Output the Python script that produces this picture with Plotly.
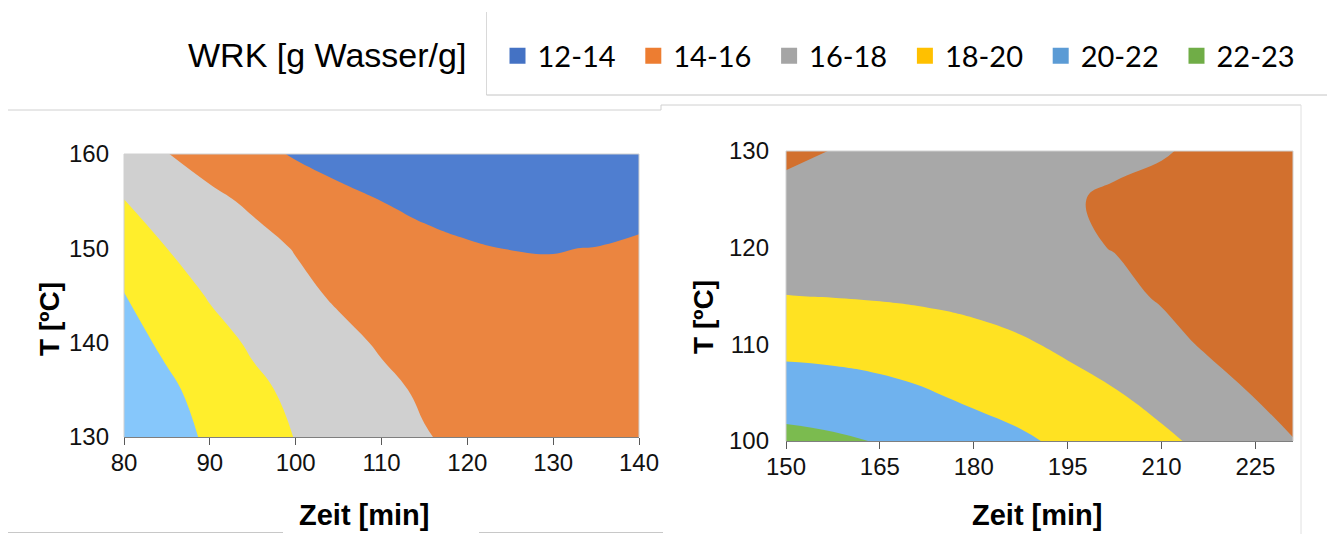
import plotly.graph_objects as go

W, H = 1327, 534

# ---------------- data ----------------
legend_title = "WRK [g Wasser/g]"
legend_labels = ["12-14", "14-16", "16-18", "18-20", "20-22", "22-23"]
legend_colors = ["#4472C4", "#ED7D31", "#A5A5A5", "#FFC000", "#5B9BD5", "#70AD47"]

# left chart: Zeit [min] x T [°C]
left_time = [80, 85, 90, 95, 100, 105, 110, 115, 120, 125, 130, 135, 140]
left_temp = [130, 135, 140, 145, 150, 155, 160]
left_wrk = [
    [21.6, 20.8, 19.7, 18.8, 17.95, 17.3, 16.7, 16.1, 15.6, 15.2, 14.9, 14.7, 14.6],
    [21.0, 20.3, 19.4, 18.4, 17.6, 16.95, 16.4, 15.75, 15.2, 14.8, 14.5, 14.35, 14.3],
    [20.6, 19.7, 18.7, 17.75, 17.1, 16.5, 15.8, 15.2, 14.8, 14.5, 14.3, 14.2, 14.2],
    [20.05, 19.0, 17.85, 17.2, 16.5, 15.75, 15.2, 14.8, 14.5, 14.35, 14.3, 14.3, 14.35],
    [19.3, 18.0, 17.3, 16.65, 15.9, 15.3, 14.8, 14.45, 14.15, 13.98, 13.96, 14.03, 14.3],
    [18.05, 17.3, 16.45, 15.7, 15.05, 14.5, 14.0, 13.6, 13.35, 13.2, 13.15, 13.2, 13.3],
    [16.8, 16.05, 15.2, 14.5, 13.85, 13.3, 12.9, 12.6, 12.4, 12.3, 12.3, 12.35, 12.45],
]
left_xticks = [80, 90, 100, 110, 120, 130, 140]
left_yticks = [130, 140, 150, 160]

# right chart
right_time = [150, 157.5, 165, 172.5, 180, 187.5, 195, 202.5, 210, 217.5, 225, 232.5]
right_temp = [100, 105, 110, 115, 120, 125, 130]
right_wrk = [
    [22.6, 22.3, 21.9, 21.3, 20.8, 20.3, 19.6, 18.9, 18.4, 17.5, 16.7, 15.9],
    [20.9, 20.75, 20.5, 20.1, 19.6, 19.1, 18.6, 18.1, 17.3, 16.6, 15.9, 15.3],
    [19.5, 19.4, 19.2, 18.95, 18.6, 18.2, 17.7, 17.1, 16.5, 15.8, 15.2, 14.8],
    [18.02, 17.95, 17.85, 17.7, 17.5, 17.2, 16.85, 16.4, 15.85, 15.3, 14.9, 14.6],
    [17.3, 17.25, 17.15, 17.0, 16.8, 16.55, 16.25, 15.95, 15.55, 15.1, 14.7, 14.4],
    [16.6, 16.65, 16.65, 16.55, 16.4, 16.25, 16.1, 15.85, 15.4, 14.95, 14.6, 14.3],
    [15.6, 16.05, 16.35, 16.45, 16.45, 16.4, 16.3, 16.25, 16.15, 15.6, 15.1, 14.7],
]
right_xticks = [150, 165, 180, 195, 210, 225]
right_yticks = [100, 110, 120, 130]

# band fill colours (12-14, 14-16, 16-18, 18-20, 20-22, 22-24)
left_band_colors = ["#4F7ED0", "#EB8540", "#D0D0D0", "#FFEE2C", "#86C7FB", "#7CB94E"]
right_band_colors = ["#4472C4", "#D2702E", "#A8A8A8", "#FFE222", "#6FB2EE", "#7BBB4F"]

# ---------------- helpers ----------------
def px_x(p):
    return p / W


def px_y(p):
    return 1 - p / H


def stepped(colors):
    n = len(colors)
    cs = []
    for i, c in enumerate(colors):
        cs.append([i / n, c])
        cs.append([(i + 1) / n, c])
    return cs


tick_font = dict(family="Liberation Sans, Arial, sans-serif", size=24, color="#111111")
bold_font = dict(family="Liberation Sans, Arial, sans-serif", size=29, color="#000000")

fig = go.Figure()

for xs, ys, zs, cols, xa, ya in [
    (left_time, left_temp, left_wrk, left_band_colors, "x", "y"),
    (right_time, right_temp, right_wrk, right_band_colors, "x2", "y2"),
]:
    fig.add_trace(go.Contour(
        x=xs, y=ys, z=zs,
        colorscale=stepped(cols), zmin=12, zmax=24,
        autocontour=False,
        contours=dict(start=12, end=24, size=2, coloring="fill", showlines=False),
        line=dict(width=0, smoothing=1.3),
        showscale=False, showlegend=False,
        xaxis=xa, yaxis=ya,
    ))

# legend entries
for lab, col in zip(legend_labels, legend_colors):
    fig.add_trace(go.Scatter(
        x=[None], y=[None], mode="markers", name=lab,
        marker=dict(symbol="square", size=19, color=col, line=dict(width=0)),
        xaxis="x", yaxis="y", showlegend=True,
    ))

axis_common = dict(showgrid=False, zeroline=False, tickfont=tick_font, fixedrange=True,
                   automargin=False)

fig.update_layout(
    template="none",
    width=W, height=H,
    margin=dict(l=0, r=0, t=0, b=0, pad=0, autoexpand=False),
    paper_bgcolor="white", plot_bgcolor="white",
    showlegend=True,
    legend=dict(
        orientation="h", x=px_x(497.5), xanchor="left", y=px_y(56), yanchor="middle",
        font=dict(family="Lato, Carlito, sans-serif", size=29, color="#000000"),
        entrywidth=90.8, entrywidthmode="pixels",
        bgcolor="rgba(0,0,0,0)", borderwidth=0, itemclick=False,
    ),
    xaxis=dict(domain=[px_x(124), px_x(639)], anchor="y", range=[80, 140], tickvals=left_xticks,
               ticks="outside", ticklen=7, tickwidth=1, tickcolor="#595959",
               ticklabelstandoff=-3,
               showline=True, linecolor="#7F7F7F", linewidth=1, **axis_common),
    yaxis=dict(domain=[px_y(437), px_y(154)], anchor="x", range=[130, 160], tickvals=left_yticks,
               ticks="", showline=False, ticklabelstandoff=14, **axis_common),
    xaxis2=dict(domain=[px_x(786), px_x(1293)], anchor="y2", range=[150, 231], tickvals=right_xticks,
                ticks="outside", ticklen=7, tickwidth=1, tickcolor="#595959",
                ticklabelstandoff=-3,
                showline=True, linecolor="#7F7F7F", linewidth=1, **axis_common),
    yaxis2=dict(domain=[px_y(441), px_y(151)], anchor="x2", range=[100, 130], tickvals=right_yticks,
                ticks="", showline=False, ticklabelstandoff=16, **axis_common),
)

# plot-area borders (top, left, right) for both panels
for xd, yd in [("x domain", "y domain"), ("x2 domain", "y2 domain")]:
    for (x0, y0, x1, y1) in [(0, 1, 1, 1), (0, 0, 0, 1), (1, 0, 1, 1)]:
        fig.add_shape(type="line", xref=xd, yref=yd, x0=x0, y0=y0, x1=x1, y1=y1,
                      line=dict(color="#D0D0D0", width=1), layer="above")

# frame lines of the original Excel chart boxes (pixel positions)
frame_lines = [
    (486.5, 12, 486.5, 95, "#D9D9D9"),
    (486.5, 95, 1327, 95, "#C4C4C4"),
    (8, 110, 661, 110, "#D0D0D0"),
    (661, 105, 661, 110, "#D0D0D0"),
    (661, 105, 1301, 105, "#D0D0D0"),
    (1301, 105, 1301, 534, "#E0E0E0"),
    (8, 532.5, 283, 532.5, "#C8C8C8"),
    (479, 532.5, 663, 532.5, "#C8C8C8"),
]
for x0, y0, x1, y1, c in frame_lines:
    fig.add_shape(type="line", xref="paper", yref="paper",
                  x0=px_x(x0), y0=px_y(y0), x1=px_x(x1), y1=px_y(y1),
                  line=dict(color=c, width=1))

annotations = [
    dict(text=legend_title, x=px_x(468), y=px_y(55), xanchor="right", yanchor="middle",
         font=dict(family="Liberation Sans, Arial, sans-serif", size=34, color="#000000")),
    dict(text="<b>Zeit [min]</b>", x=px_x(364), y=px_y(515), xanchor="center", yanchor="middle",
         font=bold_font),
    dict(text="<b>Zeit [min]</b>", x=px_x(1037), y=px_y(515), xanchor="center", yanchor="middle",
         font=bold_font),
    dict(text="<b>T [ºC]</b>", x=px_x(49), y=px_y(319), xanchor="center", yanchor="middle",
         textangle=-90, font=dict(bold_font, size=28)),
    dict(text="<b>T [ºC]</b>", x=px_x(703), y=px_y(317), xanchor="center", yanchor="middle",
         textangle=-90, font=dict(bold_font, size=28)),
]
for a in annotations:
    fig.add_annotation(xref="paper", yref="paper", showarrow=False, **a)

fig.write_html("out.html",
               config={"displayModeBar": False},
               post_script="document.body.style.margin='0px';document.body.style.overflow='hidden';")
